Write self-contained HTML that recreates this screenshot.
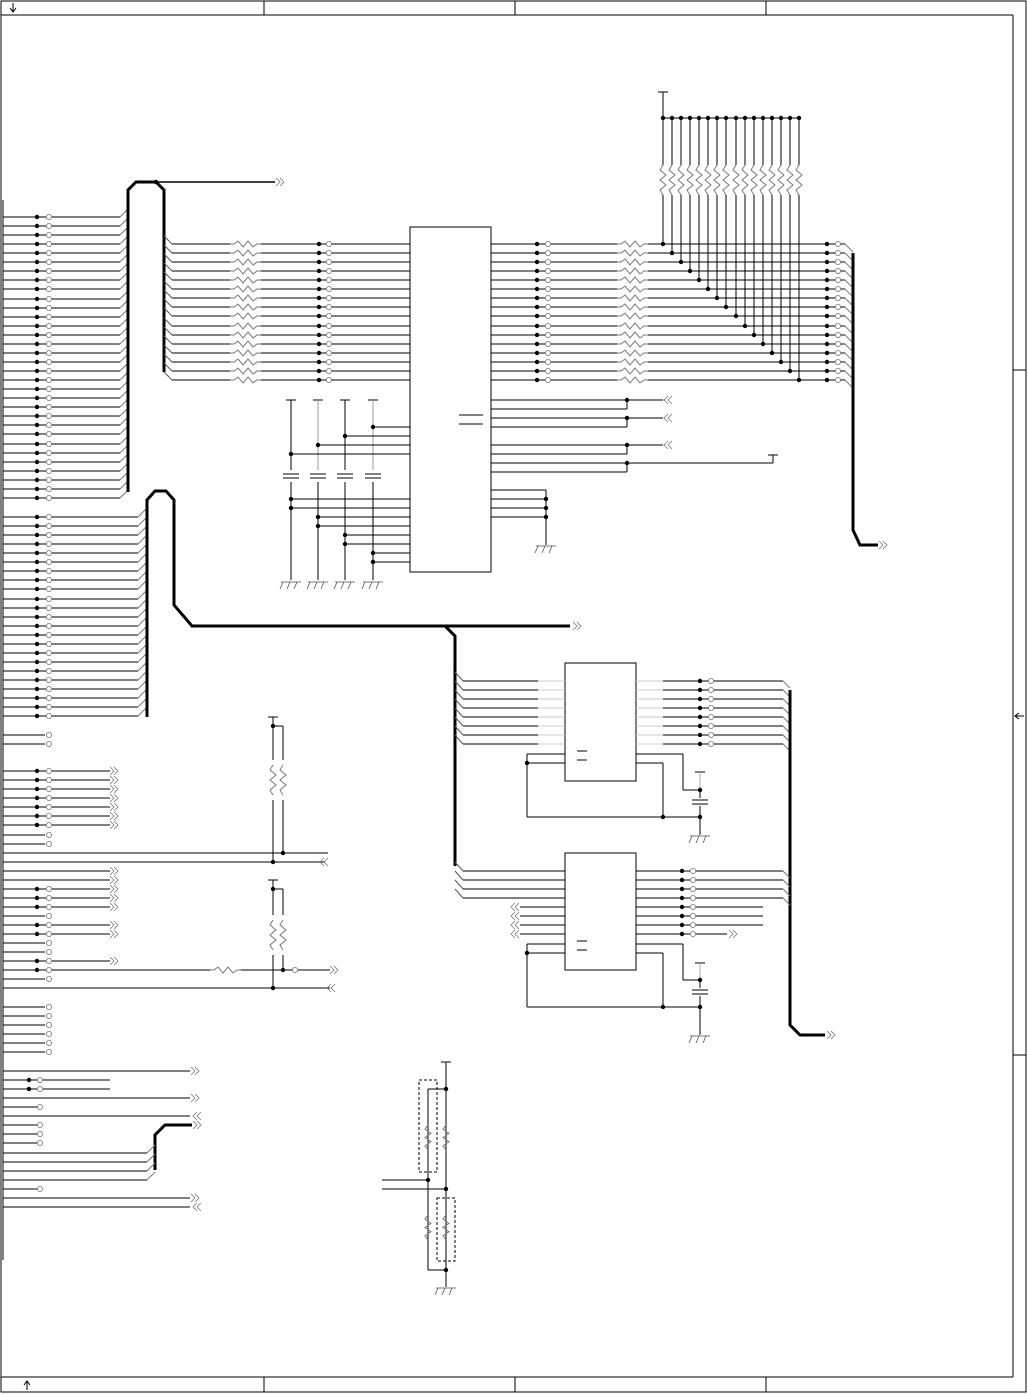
<!DOCTYPE html>
<html><head><meta charset="utf-8"><style>
html,body{margin:0;padding:0;background:#fff;}
svg{display:block;}
</style></head><body>
<svg id="s" xmlns="http://www.w3.org/2000/svg" width="1027" height="1394" viewBox="0 0 1027 1394"></svg>
<script>
var o=[];
function L(a,b,c,d,w,col){o.push('<line x1="'+a+'" y1="'+b+'" x2="'+c+'" y2="'+d+'" stroke="'+(col||'#000')+'" stroke-width="'+(w||1)+'"/>');}
function P(pts,w,col){o.push('<polyline points="'+pts+'" fill="none" stroke="'+(col||'#000')+'" stroke-width="'+(w||1)+'"/>');}
function D(x,y){o.push('<circle cx="'+x+'" cy="'+y+'" r="2.2" fill="#000"/>');}
function C(x,y){o.push('<circle cx="'+x+'" cy="'+y+'" r="2.6" fill="#fff" stroke="#777" stroke-width="0.8"/>');}
function RH(x,y){P(x+','+y+' '+(x+4)+','+y+' '+(x+8)+','+(y-3)+' '+(x+13)+','+(y+3)+' '+(x+18)+','+(y-3)+' '+(x+23)+','+(y+3)+' '+(x+27)+','+y+' '+(x+31)+','+y,1,'#777');}
function RV(x,y,h){h=h||30;var s=h/6;P(x+','+y+' '+(x-3)+','+(y+s)+' '+(x+3)+','+(y+2*s)+' '+(x-3)+','+(y+3*s)+' '+(x+3)+','+(y+4*s)+' '+(x-3)+','+(y+5*s)+' '+x+','+(y+h),1,'#777');}
function AR(x,y){P(x+','+(y-4)+' '+(x+4)+','+y+' '+x+','+(y+4),0.8,'#777');P((x+4)+','+(y-4)+' '+(x+8)+','+y+' '+(x+4)+','+(y+4),0.8,'#777');}
function AL(x,y){P((x+4)+','+(y-4)+' '+x+','+y+' '+(x+4)+','+(y+4),0.8,'#777');P((x+8)+','+(y-4)+' '+(x+4)+','+y+' '+(x+8)+','+(y+4),0.8,'#777');}
function G(x,y){L(x-10,y,x+10,y,1,'#777');for(var i=0;i<3;i++)L(x-8+i*7,y,x-11+i*7,y+7,0.8,'#555');}
function T(x,y){L(x-5,y,x+5,y);}
function CAP(x,y){L(x-8,y-2,x+8,y-2);L(x-8,y+2,x+8,y+2);}
// frame
o.push('<rect x="1" y="1" width="1025" height="1391" fill="none" stroke="#000"/>');
L(1,15,1013,15);L(1,1377,1013,1377);L(1013,15,1013,1377);
[264,515,766].forEach(function(x){L(x,1,x,15);L(x,1377,x,1392);});
L(1013,370,1026,370);L(1013,1055,1026,1055);
L(13,3,13,12);P('10,8 13,12 16,8');L(27,1381,27,1390);P('24,1385 27,1381 30,1385');
L(1015,716,1024,716);P('1019,713 1015,716 1019,719');
L(3,200,3,1260);
// group1 left
for(var i=0;i<32;i++){var y=217+i*9.06;y=Math.round(y);L(3,y,120,y);L(120,y,128,y-8,1,'#777');D(37,y);C(49,y);}
P('128,492 128,190 136,182 156,182 164,190 164,372',3);
L(156,182,275,182,1.5);AR(276,182);D(156,182);
// IC1 left lines
for(var i=0;i<16;i++){var y=244+i*9.06;y=Math.round(y);L(164,y-8,172,y,1,'#555');L(172,y,230,y);RH(230,y);L(261,y,410,y);D(319,y);C(329,y);}
o.push('<rect x="410" y="227" width="81" height="345" fill="none" stroke="#000"/>');
L(459,415,483,415);L(459,424,483,424);
// IC1 right lines
for(var i=0;i<16;i++){var y=Math.round(244+i*9.06);var px=Math.round(663+i*9.07);L(491,y,617,y);RH(617,y);L(648,y,845,y);D(537,y);C(548,y);D(px,y);D(827,y);C(838,y);L(845,y,853,y+8,1,'#777');
L(px,118,px,165);RV(px,165,30);L(px,195,px,y);D(px,118);}
L(663,92,663,118);T(663,92);L(663,118,799,118);
P('853,253 853,530 860,545 878,545',3);AR(879,545);
// IC1 lower left
var cx=[291,318,345,373];
cx.forEach(function(x,k){T(x,400);L(x,400,x,470,1,k%2?'#999':'#000');CAP(x,476);L(x,482,x,580);G(x,582);});
[[373,427],[345,436],[318,445],[291,454]].forEach(function(a){L(a[0],a[1],410,a[1]);D(a[0],a[1]);});
[[291,499],[291,508],[318,517],[318,526],[345,535],[345,544],[373,553],[373,562]].forEach(function(a){L(a[0],a[1],410,a[1]);D(a[0],a[1]);});
// IC1 lower right
[[400,409],[418,427],[445,454],[463,472]].forEach(function(a,k){L(491,a[0],627,a[0]);L(491,a[1],627,a[1]);L(627,a[0],627,a[1]);D(627,a[0]);
 if(k<3){L(627,a[0],663,a[0]);AL(664,a[0]);}else{L(627,a[0],773,a[0]);L(773,a[0],773,455);L(768,455,778,455);}});
L(491,490,546,490);L(546,490,546,545);[499,508,517].forEach(function(y){L(491,y,546,y);D(546,y);});G(546,546);
// group2 left
for(var i=0;i<23;i++){var y=Math.round(517+i*9.06);L(3,y,138,y);L(138,y,147,y-9,1,'#777');D(37,y);C(49,y);}
P('147,717 147,500 155,491 166,491 174,500 174,605 192,626 570,626',3);AR(573,626);
P('445,626 455,636 455,866',3);
// IC2
o.push('<rect x="565" y="663" width="71" height="118" fill="none" stroke="#000"/>');
L(577,751,587,751);L(577,760,587,760);
for(var i=0;i<8;i++){var y=681+i*9;L(455,y-9,463,y,1,'#555');L(463,y,565,y);L(538,y,565,y,1,'#ccc');L(636,y,783,y);L(636,y,663,y,1,'#ccc');D(700,y);C(711,y);L(783,y,790,y+7,1,'#777');}
P('790,690 790,1025 800,1035 825,1035',3);AR(827,1035);
L(527,754,565,754);L(527,763,565,763);L(527,754,527,817);D(527,763);L(527,817,700,817);
L(636,754,683,754);L(683,754,683,790);L(683,790,700,790);L(636,763,663,763);L(663,763,663,817);D(663,817);
T(700,772);L(700,772,700,790,1,'#aaa');D(700,790);L(700,790,700,798);CAP(700,802);L(700,806,700,835);D(700,817);G(700,836);
// IC3
o.push('<rect x="565" y="853" width="71" height="117" fill="none" stroke="#000"/>');
L(577,941,587,941);L(577,950,587,950);
for(var i=0;i<8;i++){var y=871+i*9;if(i<4){L(455,y-9,463,y,1,'#555');L(463,y,565,y);}else{L(520,y,565,y);AL(511,y);}
 L(636,y,i<4?783:(i<7?763:727),y);D(682,y);C(693,y);if(i<4)L(783,y,790,y+7,1,'#777');}
AR(729,934);
L(527,944,565,944);L(527,953,565,953);L(527,944,527,1007);D(527,953);L(527,1007,700,1007);
L(636,944,683,944);L(683,944,683,980);L(683,980,700,980);L(636,953,663,953);L(663,953,663,1007);D(663,1007);
T(700,963);L(700,963,700,980,1,'#aaa');D(700,980);L(700,980,700,988);CAP(700,992);L(700,996,700,1035);D(700,1007);G(700,1036);
// lower left
[735,744].forEach(function(y){L(3,y,45,y);C(49,y);});
for(var i=0;i<7;i++){var y=771+i*9;L(3,y,110,y);D(37,y);C(49,y);AR(110,y);}
[835,844].forEach(function(y){L(3,y,45,y);C(49,y);});
L(3,853,328,853);L(3,862,325,862);AL(320,862);
T(273,717);L(273,717,273,860);D(273,726);L(273,726,283,726);L(283,726,283,853);D(283,853);D(273,862);
L(273,760,273,800,1,'#fff');RV(273,765,30);L(283,760,283,800,1,'#fff');RV(283,765,30);
[871,880].forEach(function(y){L(3,y,110,y);AR(110,y);});
[889,898,907].forEach(function(y){L(3,y,110,y);D(37,y);C(49,y);AR(110,y);});
L(3,916,45,916);C(49,916);
[925,934].forEach(function(y){L(3,y,110,y);D(37,y);C(49,y);AR(110,y);});
[943,952].forEach(function(y){L(3,y,45,y);C(49,y);});
L(3,961,110,961);D(37,961);C(49,961);AR(110,961);
L(3,970,210,970);RH(210,970);L(241,970,330,970);D(37,970);C(49,970);D(283,970);C(295,970);AR(330,970);
L(3,979,45,979);C(49,979);
L(3,988,330,988);AL(327,988);D(273,988);
T(273,880);L(273,880,273,988);D(273,889);L(273,889,283,889);L(283,889,283,970);
L(273,915,273,955,1,'#fff');RV(273,920,30);L(283,915,283,955,1,'#fff');RV(283,920,30);
[1007,1016,1025,1034,1043,1052].forEach(function(y){L(3,y,45,y);C(49,y);});
L(3,1071,190,1071);AR(191,1071);
[1080,1089].forEach(function(y){L(3,y,110,y);D(29,y);C(40,y);});
L(3,1098,190,1098);AR(191,1098);
L(3,1107,37,1107);C(40,1107);
L(3,1116,190,1116);AL(193,1116);
[1125,1134,1143].forEach(function(y){L(3,y,37,y);C(40,y);});
P('155,1170 155,1135 165,1125 192,1125',3);AR(193,1125);
[1153,1162,1171,1180].forEach(function(y){L(3,y,147,y);L(147,y,155,y-8,1,'#777');});
L(3,1189,37,1189);C(40,1189);
L(3,1198,190,1198);AR(191,1198);L(3,1207,190,1207);AL(193,1207);
// bottom resistor network
T(446,1062);L(446,1062,446,1270);D(446,1089);L(428,1089,446,1089);L(428,1089,428,1270);
RV(428,1125,25);RV(446,1125,25);
L(382,1180,428,1180);L(382,1189,446,1189);D(428,1180);D(446,1189);
RV(428,1215,25);RV(446,1215,25);L(428,1270,446,1270);D(446,1270);L(446,1270,446,1287);G(446,1288);
o.push('<rect x="419" y="1080" width="18" height="92" fill="none" stroke="#000" stroke-dasharray="3,2"/>');
o.push('<rect x="437" y="1198" width="18" height="63" fill="none" stroke="#000" stroke-dasharray="3,2"/>');
document.getElementById('s').innerHTML=o.join('');
</script>
</body></html>
